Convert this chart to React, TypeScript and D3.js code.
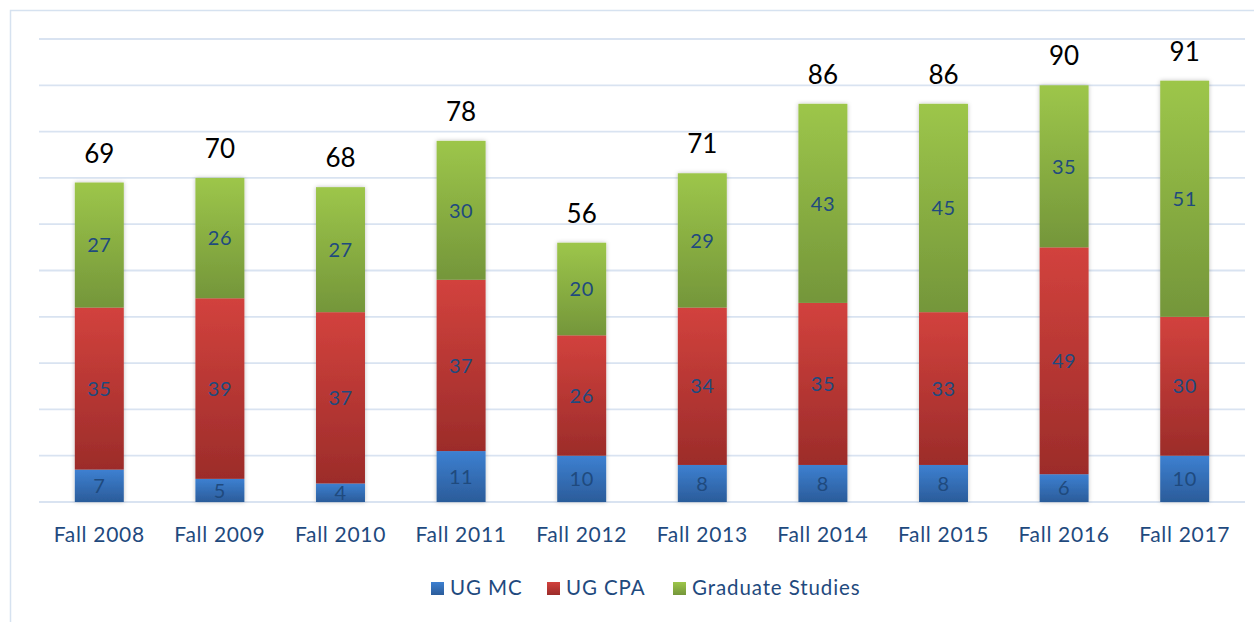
import React from "react";
import * as d3 from "d3";

const categories = ["Fall 2008", "Fall 2009", "Fall 2010", "Fall 2011", "Fall 2012", "Fall 2013", "Fall 2014", "Fall 2015", "Fall 2016", "Fall 2017"];
const ugMC = [7, 5, 4, 11, 10, 8, 8, 8, 6, 10];
const ugCPA = [35, 39, 37, 37, 26, 34, 35, 33, 49, 30];
const gradStudies = [27, 26, 27, 30, 20, 29, 43, 45, 35, 51];
const seriesNames = ["UG MC", "UG CPA", "Graduate Studies"];
const yTicks = [0, 10, 20, 30, 40, 50, 60, 70, 80, 90, 100];

const W = 1254;
const H = 622;
const FONT = "Lato, 'Open Sans', sans-serif";
const TEXT_BLUE = "#1f4a7e";

const gradients = [
  { id: "gBlue", top: "#3d80d1", bottom: "#2b5c9a" },
  { id: "gRed", top: "#d2423d", bottom: "#9c2c2a" },
  { id: "gGreen", top: "#9dc64a", bottom: "#74963a" },
];

export default function App() {
  const x = d3.scaleBand<string>().domain(categories).range([39, 1245]).paddingInner(0.594).paddingOuter(0.297);
  const y = d3.scaleLinear().domain([0, 100]).range([502, 39]);

  const rows = categories.map((c, i) => ({ cat: c, ugMC: ugMC[i], ugCPA: ugCPA[i], grad: gradStudies[i] }));
  const stack = d3.stack<any>().keys(["ugMC", "ugCPA", "grad"]);
  const layers = stack(rows);
  const values = [ugMC, ugCPA, gradStudies];

  const legendX = [431, 547, 673];

  return (
    <svg width={W} height={H} style={{ position: "absolute", left: 0, top: 0, background: "#fff" }}>
      <defs>
        {gradients.map((g) => (
          <linearGradient key={g.id} id={g.id} x1="0" y1="0" x2="0" y2="1">
            <stop offset="0%" stopColor={g.top} />
            <stop offset="100%" stopColor={g.bottom} />
          </linearGradient>
        ))}
        <filter id="shadow" x="-20%" y="-5%" width="140%" height="110%">
          <feDropShadow dx="0" dy="0" stdDeviation="2" floodColor="#000" floodOpacity="0.25" />
        </filter>
      </defs>
      <rect x={10.5} y={10.5} width={1400} height={800} fill="#fff" stroke="#d6e2f0" strokeWidth={1.5} />
      {yTicks.map((t) => (
        <line key={t} x1={39} x2={1245} y1={y(t)} y2={y(t)} stroke="#d9e3f1" strokeWidth={1.8} />
      ))}
      {categories.map((c, i) => (
        <g key={c} filter="url(#shadow)">
          {layers.map((layer, li) => {
            const d = layer[i];
            return (
              <rect
                key={li}
                x={x(c)}
                y={y(d[1])}
                width={x.bandwidth()}
                height={y(d[0]) - y(d[1])}
                fill={`url(#${gradients[li].id})`}
              />
            );
          })}
        </g>
      ))}
      {categories.map((c, i) =>
        layers.map((layer, li) => {
          const d = layer[i];
          return (
            <text
              key={c + li}
              x={(x(c) as number) + x.bandwidth() / 2}
              y={(y(d[0]) + y(d[1])) / 2}
              dy="0.36em"
              textAnchor="middle"
              fontFamily={FONT}
              fontSize={20}
              letterSpacing={0.5}
              fill={TEXT_BLUE}
            >
              {values[li][i]}
            </text>
          );
        })
      )}
      {categories.map((c, i) => {
        const total = ugMC[i] + ugCPA[i] + gradStudies[i];
        return (
          <text
            key={"t" + c}
            x={(x(c) as number) + x.bandwidth() / 2}
            y={y(total) - 20}
            textAnchor="middle"
            fontFamily={FONT}
            fontSize={26}
            fill="#000"
          >
            {total}
          </text>
        );
      })}
      {categories.map((c) => (
        <text
          key={"a" + c}
          x={(x(c) as number) + x.bandwidth() / 2}
          y={542}
          textAnchor="middle"
          fontFamily={FONT}
          fontSize={21}
          letterSpacing={0.7}
          fill={TEXT_BLUE}
        >
          {c}
        </text>
      ))}
      {seriesNames.map((s, i) => (
        <g key={s}>
          <rect x={legendX[i]} y={582} width={13} height={13} fill={`url(#${gradients[i].id})`} />
          <text x={legendX[i] + 19} y={595} fontFamily={FONT} fontSize={20.5} letterSpacing={0.9} fill={TEXT_BLUE}>
            {s}
          </text>
        </g>
      ))}
    </svg>
  );
}
